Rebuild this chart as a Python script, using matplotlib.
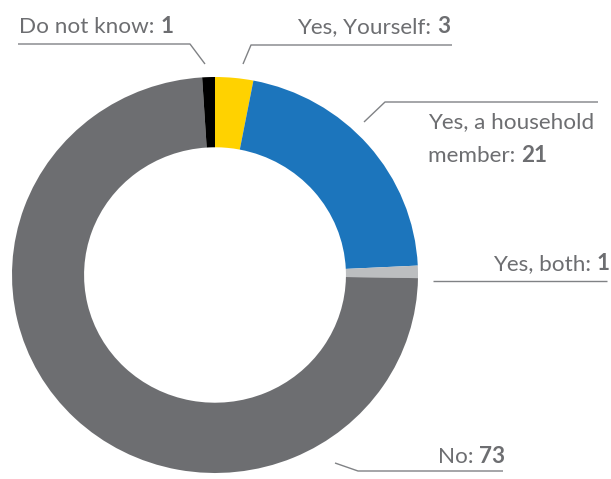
import matplotlib
matplotlib.use("Agg")
import matplotlib.pyplot as plt

labels = ["Yes, Yourself", "Yes, a household\nmember", "Yes, both", "No", "Do not know"]
values = [3, 21, 1, 73, 1]
colors = ["#ffd200", "#1c75bc", "#bcbec0", "#6d6e71", "#000000"]

W, H = 611, 479
fig = plt.figure(figsize=(W / 100, H / 100), dpi=100)

# donut: center (215, 275) px, radii 203 px (x) and 198 px (y)
cx, cy, RX, RY = 215, 275, 203, 198
axp = fig.add_axes([0, 0, 1, 1])
axp.pie(values, colors=colors, startangle=90, counterclock=False,
        center=(0, 0), radius=1, wedgeprops=dict(width=0.355, linewidth=0),
        frame=True)
axp.set_aspect("auto")
axp.set_xlim(-cx / RX, (W - cx) / RX)
axp.set_ylim(-(H - cy) / RY, cy / RY)
axp.axis("off")

ax = fig.add_axes([0, 0, 1, 1])
ax.set_xlim(0, W)
ax.set_ylim(0, H)
ax.axis("off")

TXT = "#6d6e71"
LINE = "#808285"
FONT = ["Lato", "DejaVu Sans"]
FS = 16.2

fig.canvas.draw()
renderer = fig.canvas.get_renderer()


def y(p):
    return H - p


def label(x, py, reg, bold, ha="left"):
    t = ax.text(x, y(py), reg, fontsize=FS, color=TXT, family=FONT,
                ha="left", va="baseline")
    bb = t.get_window_extent(renderer)
    tb = ax.text(0, y(py), bold, fontsize=FS, color=TXT, family=FONT,
                 weight="bold", ha="left", va="baseline")
    bbb = tb.get_window_extent(renderer) if bold else None
    total = bb.width + (bbb.width if bold else 0)
    x0 = x - total if ha == "right" else x
    t.set_x(x0)
    tb.set_x(x0 + bb.width)


def line(pts):
    xs = [p[0] for p in pts]
    ys = [y(p[1]) for p in pts]
    ax.plot(xs, ys, color=LINE, lw=1.0, solid_capstyle="butt")


# Do not know
label(19, 33, "Do not know: ", str(values[4]))
line([(18, 44), (190, 44), (205, 64)])

# Yes, Yourself
label(297, 33, "Yes, Yourself: ", str(values[0]))
line([(243, 64), (251, 45), (452, 45)])

# household
label(428, 128, "Yes, a household", "")
label(428, 162, "member: ", str(values[1]))
line([(364, 122), (385, 102), (598, 102)])

# both
label(610, 270, "Yes, both: ", str(values[2]), ha="right")
line([(433, 281), (607, 281)])

# No
label(438, 463, "No: ", str(values[3]))
line([(335, 463), (358, 471), (503, 471)])

fig.savefig("out.png", dpi=100)
